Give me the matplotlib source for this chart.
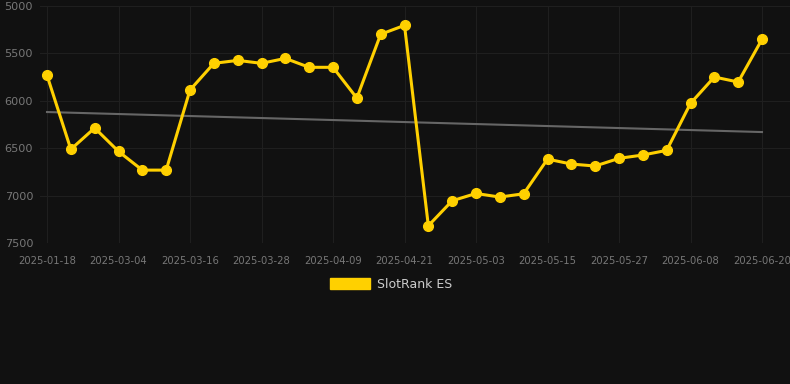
import matplotlib
matplotlib.use("Agg")
import matplotlib.pyplot as plt
from matplotlib.patches import Patch
import numpy as np

dates = ["2025-01-18", "2025-02-24", "2025-02-28", "2025-03-04", "2025-03-08", "2025-03-12",
         "2025-03-16", "2025-03-20", "2025-03-24", "2025-03-28", "2025-04-01", "2025-04-05",
         "2025-04-09", "2025-04-13", "2025-04-17", "2025-04-21", "2025-04-25", "2025-04-29",
         "2025-05-03", "2025-05-07", "2025-05-11", "2025-05-15", "2025-05-19", "2025-05-23",
         "2025-05-27", "2025-05-31", "2025-06-04", "2025-06-08", "2025-06-12", "2025-06-16",
         "2025-06-20"]
rank = [5730, 6510, 6285, 6532, 6729, 6729, 5885, 5604, 5573, 5604, 5552, 5646, 5646, 5970,
        5298, 5204, 7315, 7052, 6975, 7013, 6978, 6613, 6665, 6686, 6605, 6570, 6521, 6026,
        5748, 5801, 5351]
trend_ends = [6117, 6328]
y_ticks = [5000, 5500, 6000, 6500, 7000, 7500]
series_name = "SlotRank ES"

W, H = 790, 384
fig = plt.figure(figsize=(W / 100, H / 100), dpi=100)
bg = "#111111"
fig.patch.set_facecolor(bg)

left_px, right_px, top_px, bot_px = 40, 790, 6, 243.3
ax = fig.add_axes([left_px / W, 1 - bot_px / H, (right_px - left_px) / W, (bot_px - top_px) / H])
ax.set_facecolor(bg)

x = np.arange(len(rank))
ppu = (762 - 47) / 30
ax.set_xlim(-(47 - left_px) / ppu, 30 + (right_px - 762) / ppu)
ax.set_ylim(7500, 5000)

grid_c = "#1f1f1f"
ax.set_yticks(y_ticks)
ax.set_xticks(x[::3])
ax.set_xticklabels([dates[i] for i in range(0, len(dates), 3)])
ax.grid(True, color=grid_c, linewidth=0.8)
for s in ax.spines.values():
    s.set_visible(False)
ax.tick_params(axis="y", colors="#777777", labelsize=8.1, length=0, pad=5)
ax.tick_params(axis="x", colors="#777777", labelsize=7.2, length=0, pad=9)

ax.plot([x[0], x[-1]], trend_ends, color="#666666", linewidth=1.5, zorder=2)
ax.plot(x, rank, color="#FFD000", linewidth=2.2, marker="o", markersize=7.0,
        markerfacecolor="#FFD000", markeredgecolor="#FFD000", zorder=3, clip_on=False)

handle = Patch(facecolor="#FFD000", edgecolor="#FFD000")
leg = fig.legend(handles=[handle], labels=[series_name], loc="center",
                 bbox_to_anchor=(391 / W, 1 - 284 / H), frameon=False,
                 fontsize=9, handlelength=3.2, handleheight=0.95, handletextpad=0.6)
for t in leg.get_texts():
    t.set_color("#cccccc")

fig.savefig("out.png", dpi=100, facecolor=bg)
